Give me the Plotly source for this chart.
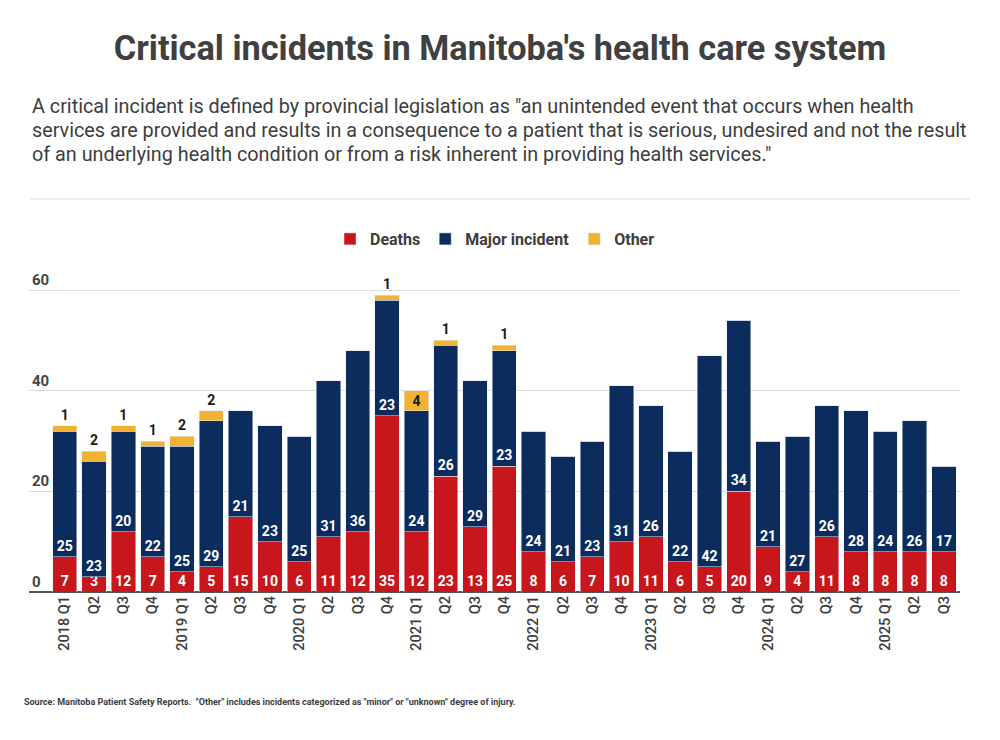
import plotly.graph_objects as go

# quarters (unique keys) and the labels shown on the axis
quarters = ["2018 Q1", "2018 Q2", "2018 Q3", "2018 Q4",
            "2019 Q1", "2019 Q2", "2019 Q3", "2019 Q4",
            "2020 Q1", "2020 Q2", "2020 Q3", "2020 Q4",
            "2021 Q1", "2021 Q2", "2021 Q3", "2021 Q4",
            "2022 Q1", "2022 Q2", "2022 Q3", "2022 Q4",
            "2023 Q1", "2023 Q2", "2023 Q3", "2023 Q4",
            "2024 Q1", "2024 Q2", "2024 Q3", "2024 Q4",
            "2025 Q1", "2025 Q2", "2025 Q3"]
tick_labels = [q if q.endswith("Q1") else q.split(" ")[1] for q in quarters]

deaths = [7, 3, 12, 7, 4, 5, 15, 10, 6, 11, 12, 35, 12, 23, 13, 25,
          8, 6, 7, 10, 11, 6, 5, 20, 9, 4, 11, 8, 8, 8, 8]
major = [25, 23, 20, 22, 25, 29, 21, 23, 25, 31, 36, 23, 24, 26, 29, 23,
         24, 21, 23, 31, 26, 22, 42, 34, 21, 27, 26, 28, 24, 26, 17]
other = [1, 2, 1, 1, 2, 2, 0, 0, 0, 0, 0, 1, 4, 1, 0, 1,
         0, 0, 0, 0, 0, 0, 0, 0, 0, 0, 0, 0, 0, 0, 0]

RED = "#c8161d"
NAVY = "#0d2c5e"
GOLD = "#f1b232"
INK = "#3d3d3d"

# plot area in figure pixels (page is drawn with an 8px body margin)
L, R, T, B = 21, 952, 262, 583.7
def px(x):
    return (x - L) / (R - L)
def py(y):
    return (B - y) / (B - T)

fig = go.Figure()
fig.add_trace(go.Bar(x=quarters, y=deaths, name="Deaths", marker_color=RED,
                     text=[str(v) for v in deaths], textposition="inside",
                     insidetextanchor="start", textangle=0,
                     textfont=dict(color="white", size=14, family="Roboto", weight="bold")))
fig.add_trace(go.Bar(x=quarters, y=major, name="Major incident", marker_color=NAVY,
                     text=[str(v) for v in major], textposition="inside",
                     insidetextanchor="start", textangle=0,
                     textfont=dict(color="white", size=14, family="Roboto", weight="bold")))
fig.add_trace(go.Bar(x=quarters, y=other, name="Other", marker_color=GOLD,
                     text=[str(v) if v else "" for v in other], textposition="auto",
                     insidetextanchor="middle", textangle=0, cliponaxis=False,
                     textfont=dict(color="#1a1a1a", size=14, family="Roboto", weight="bold")))

sub_lines = [
    "A critical incident is defined by provincial legislation as \"an unintended event that occurs when health",
    "services are provided and results in a consequence to a patient that is serious, undesired and not the result",
    "of an underlying health condition or from a risk inherent in providing health services.\"",
]
sub_y = [99, 123, 147]

notes = [dict(text=t, xref="paper", yref="paper", x=px(22), y=py(yy),
              xanchor="left", yanchor="middle", align="left", showarrow=False,
              font=dict(size=19.8, color=INK, family="Roboto"))
         for t, yy in zip(sub_lines, sub_y)]
notes.append(dict(text="<b>Source: Manitoba Patient Safety Reports.  \"Other\" includes incidents categorized as "
                       "\"minor\" or \"unknown\" degree of injury.</b>",
                  xref="paper", yref="paper", x=px(14), y=py(694),
                  xanchor="left", yanchor="middle", align="left", showarrow=False,
                  font=dict(size=9, color=INK, family="Roboto")))

fig.update_layout(
    width=1000, height=740,
    paper_bgcolor="white", plot_bgcolor="white",
    barmode="stack", bargap=0.17,
    margin=dict(l=L, r=1000 - R, t=T, b=740 - B),
    font=dict(family="Roboto", color=INK),
    uniformtext=dict(minsize=14, mode="show"),
    title=dict(text="<b>Critical incidents in Manitoba's health care system</b>",
               x=0.492, xanchor="center", y=1 - 40 / 740, yanchor="middle", yref="container",
               font=dict(size=34.3, color="#404040", family="Roboto")),
    legend=dict(orientation="h", xref="container", x=0.487, xanchor="center",
                yref="container", y=1 - 231 / 740, yanchor="middle",
                font=dict(size=16, color=INK, family="Roboto", weight="bold"),
                itemwidth=30, traceorder="normal"),
    xaxis=dict(type="category", range=[-1.22, 30.55], tickvals=quarters, ticktext=tick_labels,
               tickangle=-90, tickfont=dict(size=14.5, color=INK, family="Roboto", weight=500),
               showgrid=False, ticks="", showline=False),
    yaxis=dict(range=[0, 64], tickvals=[0, 20, 40, 60], ticklabelposition="inside top",
               tickfont=dict(size=15, color="#444", family="Roboto", weight="bold"),
               gridcolor="#dcdcdc", gridwidth=1, zeroline=True, zerolinecolor="#555",
               zerolinewidth=2, showline=False),
    annotations=notes,
    shapes=[dict(type="line", xref="paper", yref="paper", x0=px(22), x1=px(962),
                 y0=py(191), y1=py(191), line=dict(color="#e0e0e0", width=1))],
)

fig.write_html("out.html")
